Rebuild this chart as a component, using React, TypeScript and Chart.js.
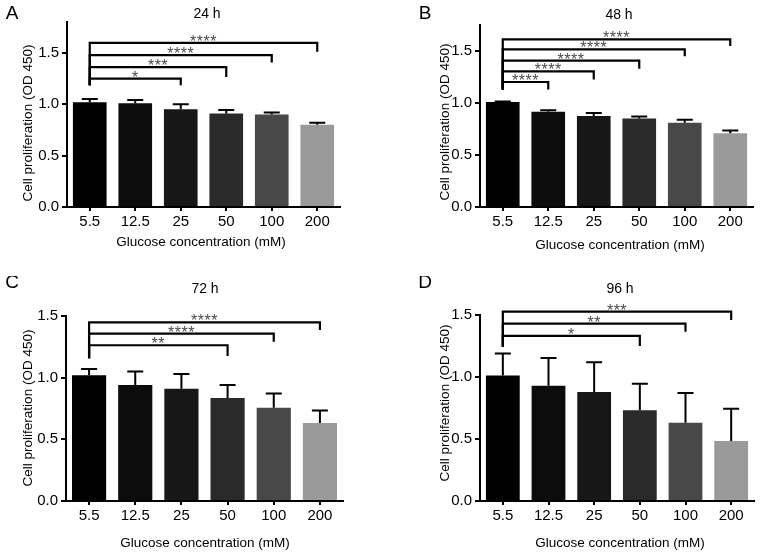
import React, { useEffect, useRef } from "react";
import { Chart, registerables } from "chart.js";

Chart.register(...registerables);

const FONT = '"Liberation Sans", Arial, Helvetica, sans-serif';

const categories = ["5.5", "12.5", "25", "50", "100", "200"];
const barColors = ["#000000", "#0c0c0c", "#171717", "#2a2a2a", "#484848", "#9a9a9a"];
const yTicks = [0, 0.5, 1.0, 1.5];

// Panel A - 24 h
const meansA = [1.02, 1.01, 0.95, 0.91, 0.9, 0.8];
const errA = [0.03, 0.03, 0.05, 0.035, 0.02, 0.02];
const bracketTargetsA = [2, 3, 4, 5];
const bracketLevelsA = [1.25, 1.36, 1.477, 1.597];
const bracketDropsA = [1.185, 1.266, 1.406, 1.51];
const bracketLabelsA = ["*", "***", "****", "****"];

// Panel B - 48 h
const meansB = [1.01, 0.915, 0.875, 0.85, 0.81, 0.71];
const errB = [0.004, 0.015, 0.03, 0.02, 0.03, 0.025];
const bracketTargetsB = [1, 2, 3, 4, 5];
const bracketLevelsB = [1.202, 1.305, 1.408, 1.516, 1.612];
const bracketDropsB = [1.129, 1.225, 1.33, 1.449, 1.548];
const bracketLabelsB = ["****", "****", "****", "****", "****"];

// Panel C - 72 h
const meansC = [1.02, 0.94, 0.91, 0.835, 0.757, 0.633];
const errC = [0.05, 0.11, 0.12, 0.105, 0.115, 0.1];
const bracketTargetsC = [3, 4, 5];
const bracketLevelsC = [1.263, 1.357, 1.449];
const bracketDropsC = [1.176, 1.292, 1.387];
const bracketLabelsC = ["**", "****", "****"];

// Panel D - 96 h
const meansD = [1.013, 0.93, 0.88, 0.731, 0.631, 0.484];
const errD = [0.177, 0.223, 0.238, 0.215, 0.24, 0.26];
const bracketTargetsD = [3, 4, 5];
const bracketLevelsD = [1.331, 1.43, 1.527];
const bracketDropsD = [1.25, 1.365, 1.46];
const bracketLabelsD = ["*", "**", "***"];

const xTitle = "Glucose concentration (mM)";
const yTitle = "Cell proliferation (OD 450)";

type Panel = {
  letter: string;
  title: string;
  means: number[];
  errs: number[];
  targets: number[];
  levels: number[];
  drops: number[];
  labels: string[];
  leftBottom: number;
  yMax: number;
  box: { x: number; y: number; w: number; h: number };
  area: { left: number; right: number; top: number; bottom: number };
  pos: {
    letter: [number, number];
    title: [number, number];
    xTitle: [number, number];
    yTitle: [number, number];
  };
};

const panels: Panel[] = [
  {
    letter: "A",
    title: "24 h",
    means: meansA,
    errs: errA,
    targets: bracketTargetsA,
    levels: bracketLevelsA,
    drops: bracketDropsA,
    labels: bracketLabelsA,
    leftBottom: 1.185,
    yMax: 1.8,
    box: { x: 0, y: 0, w: 383, h: 276 },
    area: { left: 67, right: 340, top: 22, bottom: 207 },
    pos: { letter: [12, 14], title: [207, 14], xTitle: [201, 242], yTitle: [28, 123] },
  },
  {
    letter: "B",
    title: "48 h",
    means: meansB,
    errs: errB,
    targets: bracketTargetsB,
    levels: bracketLevelsB,
    drops: bracketDropsB,
    labels: bracketLabelsB,
    leftBottom: 1.129,
    yMax: 1.75,
    box: { x: 383, y: 0, w: 382, h: 276 },
    area: { left: 97, right: 370, top: 25, bottom: 207 },
    pos: { letter: [42, 14], title: [236, 15], xTitle: [237, 245], yTitle: [62, 122] },
  },
  {
    letter: "C",
    title: "72 h",
    means: meansC,
    errs: errC,
    targets: bracketTargetsC,
    levels: bracketLevelsC,
    drops: bracketDropsC,
    labels: bracketLabelsC,
    leftBottom: 1.157,
    yMax: 1.5,
    box: { x: 0, y: 276, w: 383, h: 277 },
    area: { left: 66, right: 343, top: 40, bottom: 225 },
    pos: { letter: [12, 7], title: [205, 13], xTitle: [205, 267], yTitle: [28, 132] },
  },
  {
    letter: "D",
    title: "96 h",
    means: meansD,
    errs: errD,
    targets: bracketTargetsD,
    levels: bracketLevelsD,
    drops: bracketDropsD,
    labels: bracketLabelsD,
    leftBottom: 1.244,
    yMax: 1.5,
    box: { x: 383, y: 276, w: 382, h: 277 },
    area: { left: 97, right: 371, top: 39, bottom: 225 },
    pos: { letter: [42, 7], title: [237, 13], xTitle: [237, 267], yTitle: [62, 127] },
  },
];

function makeOverlay(p: Panel) {
  return {
    id: "overlay" + p.letter,
    afterDatasetsDraw(chart: any) {
      const ctx = chart.ctx;
      const ys = chart.scales.y;
      const meta = chart.getDatasetMeta(0);
      ctx.save();
      // error bars (upper only)
      ctx.strokeStyle = "#000";
      ctx.lineWidth = 2;
      meta.data.forEach((bar: any, i: number) => {
        const x = bar.x;
        const yTop = ys.getPixelForValue(p.means[i]);
        const yErr = ys.getPixelForValue(p.means[i] + p.errs[i]);
        ctx.beginPath();
        ctx.moveTo(x, yTop);
        ctx.lineTo(x, yErr);
        ctx.moveTo(x - 8, yErr);
        ctx.lineTo(x + 8, yErr);
        ctx.stroke();
      });
      // significance brackets
      const x0 = meta.data[0].x;
      const yLeftBottom = ys.getPixelForValue(p.leftBottom);
      p.targets.forEach((t: number, k: number) => {
        const x1 = meta.data[t].x;
        const yl = ys.getPixelForValue(p.levels[k]);
        const yd = ys.getPixelForValue(p.drops[k]);
        ctx.strokeStyle = "#000";
        ctx.lineWidth = 2.2;
        ctx.lineCap = "butt";
        ctx.beginPath();
        ctx.moveTo(x0, yLeftBottom);
        ctx.lineTo(x0, yl);
        ctx.lineTo(x1, yl);
        ctx.lineTo(x1, yd);
        ctx.stroke();
        ctx.fillStyle = "#4a4a4a";
        ctx.font = "16px " + FONT;
        (ctx as any).letterSpacing = "0.5px";
        ctx.textAlign = "center";
        ctx.textBaseline = "alphabetic";
        ctx.fillText(p.labels[k], (x0 + x1) / 2, yl + 4);
        (ctx as any).letterSpacing = "0px";
      });
      ctx.restore();
    },
    afterDraw(chart: any) {
      const ctx = chart.ctx;
      ctx.save();
      ctx.fillStyle = "#000";
      ctx.textAlign = "center";
      ctx.textBaseline = "middle";
      ctx.font = "19px " + FONT;
      ctx.fillText(p.letter, p.pos.letter[0], p.pos.letter[1]);
      ctx.font = "14px " + FONT;
      ctx.fillText(p.title, p.pos.title[0], p.pos.title[1]);
      ctx.font = "13.5px " + FONT;
      ctx.fillText(xTitle, p.pos.xTitle[0], p.pos.xTitle[1]);
      ctx.translate(p.pos.yTitle[0], p.pos.yTitle[1]);
      ctx.rotate(-Math.PI / 2);
      ctx.fillText(yTitle, 0, 0);
      ctx.restore();
    },
  };
}

function PanelChart({ p }: { p: Panel }) {
  const ref = useRef<HTMLCanvasElement | null>(null);
  useEffect(() => {
    if (!ref.current) return;
    const chart = new Chart(ref.current, {
      type: "bar",
      data: {
        labels: categories,
        datasets: [
          {
            data: p.means,
            backgroundColor: barColors,
            borderWidth: 0,
            barPercentage: 0.74,
            categoryPercentage: 1,
          },
        ],
      },
      options: {
        animation: false,
        responsive: false,
        devicePixelRatio: 1,
        layout: {
          padding: { top: p.area.top, right: p.box.w - p.area.right, left: 0, bottom: 0 },
        },
        plugins: {
          legend: { display: false },
          tooltip: { enabled: false },
          title: { display: false },
        },
        scales: {
          x: {
            grid: {
              display: true,
              drawOnChartArea: false,
              drawTicks: true,
              tickLength: 4,
              color: "#000",
              lineWidth: 2,
              offset: false,
            },
            border: { display: true, color: "#000", width: 2 },
            ticks: {
              color: "#000",
              font: { family: FONT, size: 15 },
              padding: 2,
              maxRotation: 0,
              autoSkip: false,
            },
            afterFit: (s: any) => {
              s.height = p.box.h - p.area.bottom;
            },
          },
          y: {
            min: 0,
            max: p.yMax,
            afterBuildTicks: (s: any) => {
              s.ticks = yTicks.map((v) => ({ value: v }));
            },
            grid: {
              display: true,
              drawOnChartArea: false,
              drawTicks: true,
              tickLength: 5,
              color: "#000",
              lineWidth: 2,
            },
            border: { display: true, color: "#000", width: 2 },
            ticks: {
              color: "#000",
              font: { family: FONT, size: 15 },
              padding: 3,
              callback: (v: any) => Number(v).toFixed(1),
            },
            afterFit: (s: any) => {
              s.width = p.area.left;
            },
          },
        },
      } as any,
      plugins: [makeOverlay(p)],
    });
    return () => chart.destroy();
  }, [p]);
  return (
    <canvas
      ref={ref}
      width={p.box.w}
      height={p.box.h}
      style={{
        position: "absolute",
        left: p.box.x,
        top: p.box.y,
        width: p.box.w,
        height: p.box.h,
      }}
    />
  );
}

export default function App() {
  return (
    <div
      style={{
        position: "absolute",
        left: 0,
        top: 0,
        width: 765,
        height: 553,
        background: "#fff",
        overflow: "hidden",
      }}
    >
      {panels.map((p) => (
        <PanelChart key={p.letter} p={p} />
      ))}
    </div>
  );
}
